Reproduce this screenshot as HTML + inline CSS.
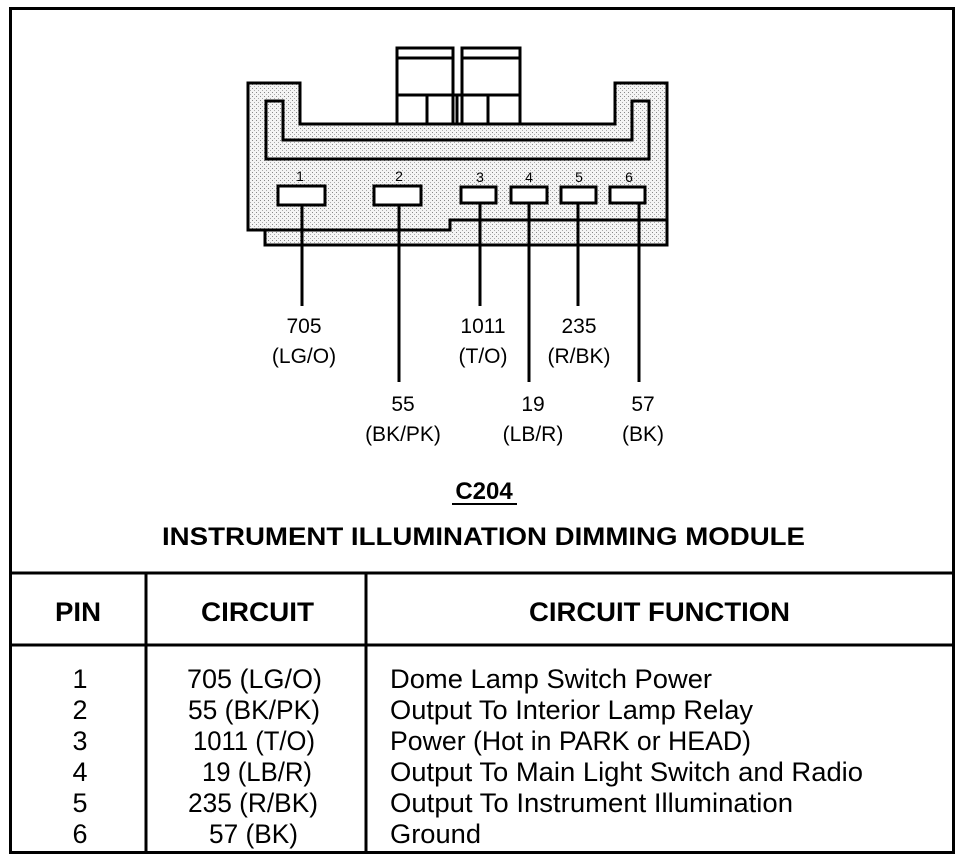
<!DOCTYPE html>
<html><head><style>body{margin:0;background:#fff}svg{display:block}</style></head><body>
<svg width="976" height="860" viewBox="0 0 976 860" xmlns="http://www.w3.org/2000/svg" font-family="Liberation Sans, Arial, sans-serif">
<defs><pattern id="st" width="4" height="4" patternUnits="userSpaceOnUse"><rect width="4" height="4" fill="#f4f4f4"/><rect x="0" y="0" width="1" height="1" fill="#888"/><rect x="2" y="2" width="1" height="1" fill="#aaa"/></pattern></defs>
<rect x="10.5" y="8.5" width="943" height="844" fill="none" stroke="#000" stroke-width="3"/>
<rect x="265" y="215" width="402" height="30" fill="url(#st)" stroke="#000" stroke-width="3"/>
<path d="M248 83 H300 V124 H615 V83 H667 V220 H450 V230 H248 Z" fill="url(#st)" stroke="#000" stroke-width="3"/>
<path d="M266 101 H283 V140 H632 V101 H649 V159 H266 Z" fill="url(#st)" stroke="#000" stroke-width="3"/>
<rect x="397" y="48" width="56" height="76" fill="#fff" stroke="#000" stroke-width="3"/>
<rect x="462" y="48" width="58" height="76" fill="#fff" stroke="#000" stroke-width="3"/>
<line x1="397" y1="58" x2="453" y2="58" stroke="#000" stroke-width="3"/>
<line x1="462" y1="58" x2="520" y2="58" stroke="#000" stroke-width="3"/>
<line x1="397" y1="95" x2="520" y2="95" stroke="#000" stroke-width="3"/>
<line x1="427" y1="95" x2="427" y2="124" stroke="#000" stroke-width="3"/>
<line x1="457" y1="95" x2="457" y2="124" stroke="#000" stroke-width="3"/>
<line x1="488" y1="95" x2="488" y2="124" stroke="#000" stroke-width="3"/>
<g fill="#fff" stroke="#000" stroke-width="3">
<rect x="278" y="186" width="47" height="19"/>
<rect x="374" y="186" width="47" height="19"/>
<rect x="461" y="187" width="35" height="16"/>
<rect x="511" y="187" width="36" height="16"/>
<rect x="561" y="187" width="35" height="16"/>
<rect x="610" y="187" width="35" height="16"/>
</g>
<g font-size="14" text-anchor="middle">
<text x="300" y="181">1</text><text x="399" y="181">2</text><text x="480" y="182">3</text><text x="529" y="182">4</text><text x="579" y="182">5</text><text x="629" y="182">6</text>
</g>
<g stroke="#000" stroke-width="3">
<line x1="302" y1="205" x2="302" y2="306"/>
<line x1="399" y1="205" x2="399" y2="382"/>
<line x1="480" y1="203" x2="480" y2="306"/>
<line x1="529" y1="203" x2="529" y2="382"/>
<line x1="578" y1="203" x2="578" y2="306"/>
<line x1="639" y1="203" x2="639" y2="382"/>
</g>
<g font-size="21" text-anchor="middle">
<text x="304" y="333">705</text><text x="304" y="363">(LG/O)</text>
<text x="483" y="333">1011</text><text x="483" y="363">(T/O)</text>
<text x="579" y="333">235</text><text x="579" y="363">(R/BK)</text>
<text x="403" y="411">55</text><text x="403" y="441">(BK/PK)</text>
<text x="533" y="411">19</text><text x="533" y="441">(LB/R)</text>
<text x="643" y="411">57</text><text x="643" y="441">(BK)</text>
</g>
<text x="484" y="499" font-size="24" font-weight="bold" text-anchor="middle">C204</text>
<line x1="452" y1="504" x2="517" y2="504" stroke="#000" stroke-width="2"/>
<text x="162" y="545" font-size="25" font-weight="bold" textLength="643" lengthAdjust="spacingAndGlyphs">INSTRUMENT ILLUMINATION DIMMING MODULE</text>
<g stroke="#000" stroke-width="3">
<line x1="10" y1="573" x2="954" y2="573"/>
<line x1="10" y1="645" x2="954" y2="645"/>
<line x1="146" y1="573" x2="146" y2="852"/>
<line x1="366" y1="573" x2="366" y2="852"/>
</g>
<g font-size="27" font-weight="bold">
<text x="55" y="621" textLength="46" lengthAdjust="spacingAndGlyphs">PIN</text>
<text x="201" y="621" textLength="113" lengthAdjust="spacingAndGlyphs">CIRCUIT</text>
<text x="529" y="621" textLength="261" lengthAdjust="spacingAndGlyphs">CIRCUIT FUNCTION</text>
</g>
<g font-size="27">
<g text-anchor="middle">
<text x="80" y="688">1</text><text x="80" y="719">2</text><text x="80" y="750">3</text><text x="80" y="781">4</text><text x="80" y="812">5</text><text x="80" y="843">6</text>
</g>
<text x="187" y="688" textLength="135" lengthAdjust="spacingAndGlyphs">705 (LG/O)</text>
<text x="188" y="719" textLength="132" lengthAdjust="spacingAndGlyphs">55 (BK/PK)</text>
<text x="193" y="750" textLength="122" lengthAdjust="spacingAndGlyphs">1011 (T/O)</text>
<text x="202" y="781" textLength="110" lengthAdjust="spacingAndGlyphs">19 (LB/R)</text>
<text x="188" y="812" textLength="130" lengthAdjust="spacingAndGlyphs">235 (R/BK)</text>
<text x="209" y="843" textLength="89" lengthAdjust="spacingAndGlyphs">57 (BK)</text>
<text x="390" y="688" textLength="322" lengthAdjust="spacingAndGlyphs">Dome Lamp Switch Power</text>
<text x="390" y="719" textLength="363" lengthAdjust="spacingAndGlyphs">Output To Interior Lamp Relay</text>
<text x="390" y="750" textLength="361" lengthAdjust="spacingAndGlyphs">Power (Hot in PARK or HEAD)</text>
<text x="390" y="781" textLength="473" lengthAdjust="spacingAndGlyphs">Output To Main Light Switch and Radio</text>
<text x="390" y="812" textLength="403" lengthAdjust="spacingAndGlyphs">Output To Instrument Illumination</text>
<text x="390" y="843" textLength="91" lengthAdjust="spacingAndGlyphs">Ground</text>
</g>
</svg>
</body></html>
